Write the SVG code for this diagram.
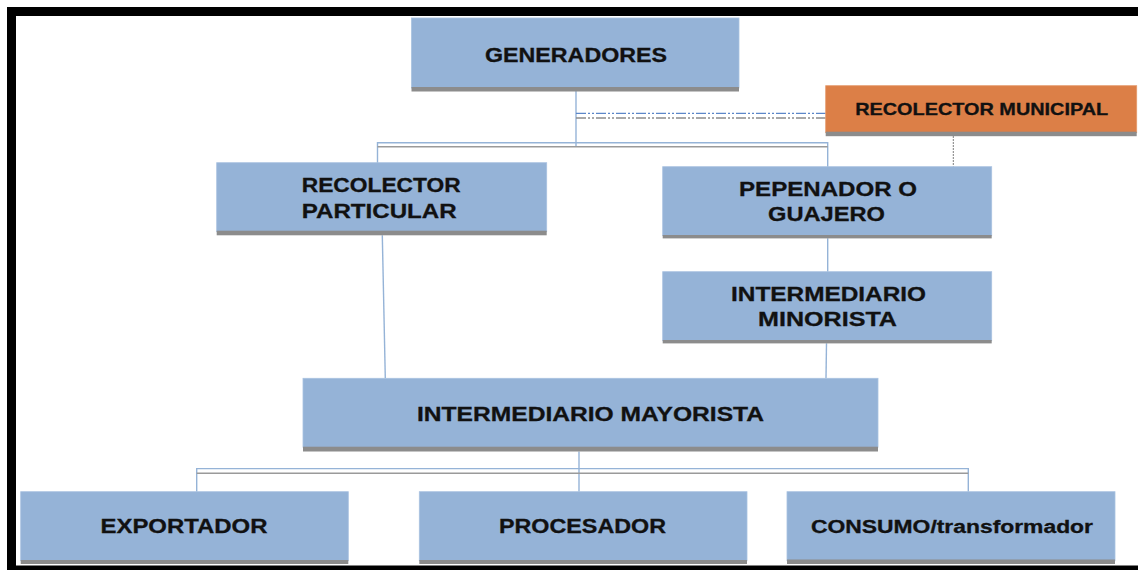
<svg xmlns="http://www.w3.org/2000/svg" width="1138" height="570" viewBox="0 0 1138 570">
<style>
.box{fill:#95B3D7;stroke:#A9C2E0;stroke-width:0.8}
.org{fill:#DC7F47;stroke:#E49A6C;stroke-width:0.8}
.band{fill:#8C8C8C}
.lbl{font-family:"Liberation Sans",Arial,sans-serif;font-weight:bold;fill:#111;stroke:#111;stroke-width:0.3;text-anchor:middle}
.ln{fill:none;stroke:#95B3D7;stroke-width:1.4}
.lg{fill:none;stroke:#9A9A9A;stroke-width:1.4}
.dd{fill:none;stroke-width:1.3;stroke-dasharray:10 2 2 2 2 2}
.frame{fill:#000}
</style>
<rect width="1138" height="570" fill="#fff"/>
<g id="frame">
<rect class="frame" x="7" y="7" width="1131" height="9"/>
<rect class="frame" x="7" y="7" width="9" height="563"/>
<rect class="frame" x="7" y="565.5" width="1131" height="4.5"/>
</g>
<g id="connectors">
<line class="ln" x1="576" y1="91" x2="576" y2="146.7"/>
<line class="dd" x1="576" y1="113.3" x2="825.7" y2="113.3" stroke="#5B86C8"/>
<line class="dd" x1="576" y1="118" x2="825.7" y2="118" stroke="#8C8C8C"/>
<polyline class="ln" points="377.5,163 377.5,142.7 827.7,142.7 827.7,167"/>
<line class="lg" x1="377.5" y1="146.7" x2="827.7" y2="146.7"/>
<line x1="953.3" y1="136" x2="953.3" y2="166.7" stroke="#7F7F7F" stroke-width="1" stroke-dasharray="2 1"/>
<line class="ln" x1="382.3" y1="235.3" x2="385.3" y2="378.3"/>
<line class="ln" x1="827.7" y1="238.3" x2="827.7" y2="271.7"/>
<line class="ln" x1="826.5" y1="343.3" x2="826" y2="378.3"/>
<line class="ln" x1="579" y1="451.5" x2="579" y2="491.7"/>
<polyline class="ln" points="196.7,491.7 196.7,468.6 968.3,468.6 968.3,491.7"/>
<line class="lg" x1="196.7" y1="473.2" x2="968.3" y2="473.2"/>
</g>
<g id="generadores">
<rect class="box" x="411.5" y="18" width="327.5" height="70"/>
<rect class="band" x="411.5" y="87" width="327.5" height="4.5"/>
<text class="lbl" x="576" y="62" font-size="20" textLength="182" lengthAdjust="spacingAndGlyphs">GENERADORES</text>
</g>
<g id="recolector-municipal">
<rect class="org" x="825.7" y="85.7" width="311" height="47"/>
<rect class="band" x="825.7" y="131.7" width="311" height="4.5"/>
<text class="lbl" x="981.7" y="115" font-size="16.5" textLength="253" lengthAdjust="spacingAndGlyphs">RECOLECTOR MUNICIPAL</text>
</g>
<g id="recolector-particular">
<rect class="box" x="216.7" y="162.7" width="330" height="69"/>
<rect class="band" x="216.7" y="230.7" width="330" height="4.6"/>
<text class="lbl" x="381.2" y="192.3" font-size="21" textLength="159" lengthAdjust="spacingAndGlyphs">RECOLECTOR</text>
<text class="lbl" x="379.2" y="218.3" font-size="21" textLength="155" lengthAdjust="spacingAndGlyphs">PARTICULAR</text>
</g>
<g id="pepenador">
<rect class="box" x="662.7" y="166.7" width="329" height="69"/>
<rect class="band" x="662.7" y="235" width="329" height="3.4"/>
<text class="lbl" x="828" y="196" font-size="21" textLength="178" lengthAdjust="spacingAndGlyphs">PEPENADOR O</text>
<text class="lbl" x="826.5" y="221" font-size="21" textLength="117" lengthAdjust="spacingAndGlyphs">GUAJERO</text>
</g>
<g id="intermediario-minorista">
<rect class="box" x="662.7" y="271.7" width="329" height="69"/>
<rect class="band" x="662.7" y="340" width="329" height="3.4"/>
<text class="lbl" x="828.5" y="301" font-size="20" textLength="195" lengthAdjust="spacingAndGlyphs">INTERMEDIARIO</text>
<text class="lbl" x="827.5" y="325.5" font-size="20" textLength="139" lengthAdjust="spacingAndGlyphs">MINORISTA</text>
</g>
<g id="intermediario-mayorista">
<rect class="box" x="303" y="378.3" width="575" height="69"/>
<rect class="band" x="303" y="446.7" width="575" height="4.8"/>
<text class="lbl" x="590.5" y="421" font-size="20" textLength="347" lengthAdjust="spacingAndGlyphs">INTERMEDIARIO MAYORISTA</text>
</g>
<g id="exportador">
<rect class="box" x="20.7" y="491.7" width="327.6" height="69"/>
<rect class="band" x="20.7" y="560" width="327.6" height="4"/>
<text class="lbl" x="184" y="533.3" font-size="20" textLength="167" lengthAdjust="spacingAndGlyphs">EXPORTADOR</text>
</g>
<g id="procesador">
<rect class="box" x="419.3" y="491.7" width="327.7" height="69"/>
<rect class="band" x="419.3" y="560" width="327.7" height="4"/>
<text class="lbl" x="582.5" y="533.3" font-size="20" textLength="167" lengthAdjust="spacingAndGlyphs">PROCESADOR</text>
</g>
<g id="consumo">
<rect class="box" x="787" y="491.7" width="328" height="69"/>
<rect class="band" x="787" y="559.5" width="328" height="4.5"/>
<text class="lbl" x="952" y="533" font-size="18" textLength="282" lengthAdjust="spacingAndGlyphs">CONSUMO/transformador</text>
</g>
</svg>
